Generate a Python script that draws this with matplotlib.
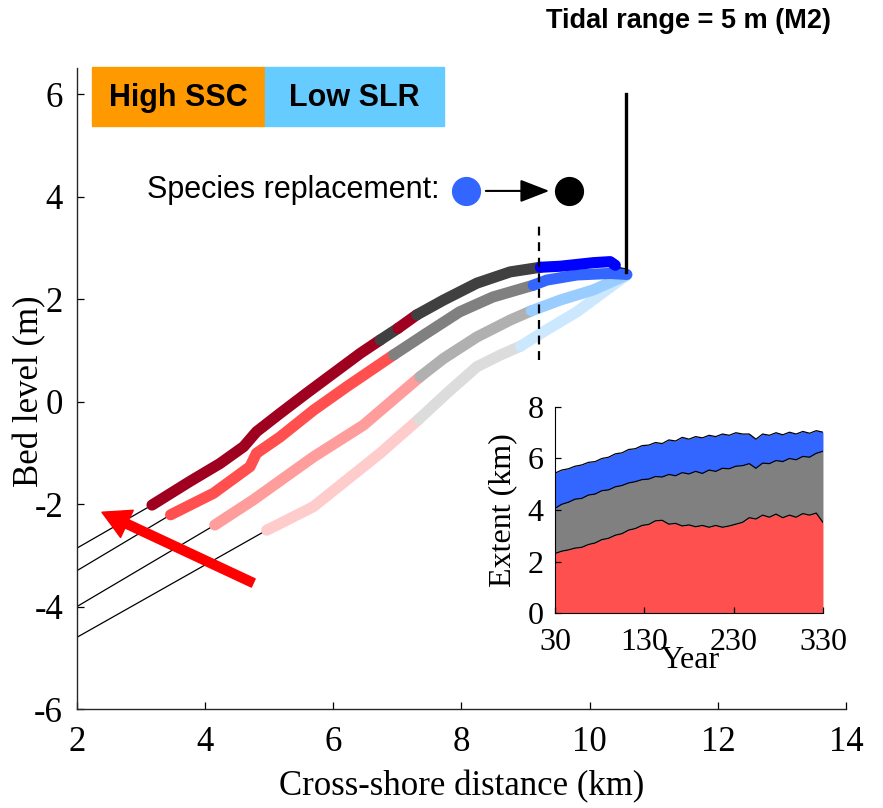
import matplotlib
matplotlib.use("Agg")
import matplotlib.pyplot as plt
from matplotlib.patches import Rectangle
import numpy as np

plt.rcParams['axes.unicode_minus'] = False

# ---- bed profiles (cross-shore km, bed level m) ----
# thin seaward extension of each profile: start at x=2 and join the vegetated part
ext_x = [2.0, 2.0, 2.0, 2.0]
ext_y = [-2.86, -3.30, -4.00, -4.60]

p1_x = [3.17, 3.76, 4.23, 4.60, 4.80, 5.17, 5.58, 6.00, 6.42, 6.73,
        7.01, 7.30, 7.72, 8.24, 8.76, 9.23, 9.54, 10.06, 10.32, 10.40]
p1_y = [-2.02, -1.56, -1.21, -0.88, -0.59, -0.23, 0.16, 0.55, 0.94, 1.20,
        1.43, 1.69, 1.98, 2.31, 2.53, 2.62, 2.64, 2.71, 2.73, 2.66]
p1_breaks = [0, 9, 10, 11, 15, 19]

p2_x = [3.46, 4.13, 4.70, 4.80, 5.17, 5.69, 6.21, 6.94, 7.45, 7.97, 8.49, 9.12,
        9.33, 9.80, 10.32, 10.58]
p2_y = [-2.21, -1.79, -1.27, -1.01, -0.69, -0.17, 0.29, 0.91, 1.33, 1.75, 2.04, 2.27,
        2.37, 2.47, 2.50, 2.48]
p2_breaks = [0, 7, 11, 15]

p3_x = [4.15, 4.75, 5.22, 5.69, 6.47, 7.35, 7.72, 8.24, 8.76, 9.09, 9.54, 10.06, 10.58]
p3_y = [-2.41, -1.92, -1.50, -1.08, -0.46, 0.48, 0.84, 1.26, 1.59, 1.77, 1.98, 2.18, 2.47]
p3_breaks = [0, 5, 9, 12]

p4_x = [4.96, 5.17, 5.69, 6.21, 6.73, 7.33, 7.77, 8.24, 8.61, 8.92, 9.33, 9.80, 10.58]
p4_y = [-2.51, -2.38, -2.05, -1.53, -1.01, -0.35, 0.16, 0.68, 0.91, 1.08, 1.40, 1.75, 2.47]
p4_breaks = [0, 5, 9, 12]

wall_x = 10.57
wall_y = [2.53, 6.0]
replace_x = 9.21
replace_y = [0.81, 3.54]

# ---- inset: vegetation extent (km) per year ----
years = [30, 37.5, 45, 52.5, 60, 67.5, 75, 82.5, 90, 97.5, 105, 112.5, 120, 127.5,
         135, 142.5, 150, 157.5, 165, 172.5, 180, 187.5, 195, 202.5, 210, 217.5,
         225, 232.5, 240, 247.5, 255, 262.5, 270, 277.5, 285, 292.5, 300, 307.5,
         315, 322.5, 330]
ext_red = [2.31, 2.40, 2.45, 2.52, 2.55, 2.66, 2.72, 2.85, 2.90, 3.02, 3.08, 3.22,
           3.28, 3.40, 3.44, 3.58, 3.60, 3.45, 3.48, 3.38, 3.42, 3.35, 3.40, 3.33,
           3.40, 3.33, 3.38, 3.45, 3.52, 3.70, 3.65, 3.80, 3.72, 3.84, 3.70, 3.80,
           3.72, 3.86, 3.80, 3.88, 3.52]
ext_gray = [4.06, 4.22, 4.30, 4.42, 4.45, 4.58, 4.62, 4.75, 4.78, 4.90, 4.95, 5.05,
            5.10, 5.18, 5.20, 5.30, 5.28, 5.38, 5.33, 5.45, 5.40, 5.50, 5.42, 5.55,
            5.50, 5.62, 5.60, 5.70, 5.72, 5.80, 5.62, 5.82, 5.80, 5.92, 5.88, 6.00,
            5.95, 6.08, 6.05, 6.20, 6.28]
ext_blue = [5.43, 5.55, 5.60, 5.70, 5.75, 5.85, 5.88, 6.00, 6.05, 6.18, 6.22, 6.35,
            6.38, 6.50, 6.52, 6.62, 6.58, 6.72, 6.68, 6.82, 6.75, 6.85, 6.80, 6.90,
            6.85, 6.95, 6.90, 7.00, 6.95, 6.95, 6.75, 6.95, 6.90, 7.00, 6.92, 7.02,
            6.95, 7.05, 6.98, 7.08, 7.02]

# ---- styling ----
serif = ['Liberation Serif', 'DejaVu Serif']
sans = ['Liberation Sans', 'DejaVu Sans']
p1_cols = ['#a00020', '#404040', '#a00020', '#404040', '#0000ff']
p2_cols = ['#ff4f4f', '#808080', '#3366ff']
p3_cols = ['#ff9c9c', '#b0b0b0', '#99ccff']
p4_cols = ['#ffcccc', '#dcdcdc', '#cce8ff']

fig = plt.figure(figsize=(8.83, 8.08), dpi=100)
ax = fig.add_axes([0.0872, 0.1225, 0.8709, 0.7928])

profiles = [(p4_x, p4_y, p4_breaks, p4_cols, 3),
            (p3_x, p3_y, p3_breaks, p3_cols, 2),
            (p2_x, p2_y, p2_breaks, p2_cols, 1),
            (p1_x, p1_y, p1_breaks, p1_cols, 0)]

# thin black lines under the thick ones
for px, py, br, cols, k in profiles:
    ax.plot([ext_x[k]] + px, [ext_y[k]] + py, color='black', lw=0.9, zorder=2)
ax.plot([p1_x[-1], wall_x], [2.62, 2.58], color='black', lw=1.5, zorder=2)

for px, py, br, cols, k in profiles:
    for i in range(len(br) - 1):
        ax.plot(px[br[i]:br[i + 1] + 1], py[br[i]:br[i + 1] + 1], color=cols[i],
                lw=8, solid_capstyle='round', solid_joinstyle='round', zorder=3)

ax.plot([wall_x, wall_x], wall_y, color='black', lw=2.4, zorder=4)
ax.plot([replace_x, replace_x], replace_y, color='black', lw=1.6,
        ls=(0, (4, 3)), zorder=5)

# species replacement legend
ax.text(7.66, 4.12, 'Species replacement:', family=sans, fontsize=22,
        ha='right', va='center')
ax.plot([8.07], [4.11], 'o', color='#3366ff', ms=20, zorder=6)
ax.plot([9.68], [4.11], 'o', color='black', ms=20, zorder=6)
ax.annotate('', xy=(9.37, 4.11), xytext=(8.38, 4.11),
            arrowprops=dict(arrowstyle='-|>,head_length=0.9,head_width=0.35',
                            color='black', lw=1.5, shrinkA=0, shrinkB=0,
                            mutation_scale=20))

# red arrow
ax.annotate('', xy=(2.39, -2.16), xytext=(4.75, -3.54),
            arrowprops=dict(arrowstyle='simple,head_length=1.1,head_width=1.2,tail_width=0.36',
                            color='#ff0000', shrinkA=0, shrinkB=0, mutation_scale=18),
            zorder=7)

# scenario boxes
ax.add_patch(Rectangle((2.23, 5.37), 2.71, 1.16, color='#ff9900', clip_on=False, zorder=6))
ax.add_patch(Rectangle((4.94, 5.37), 2.79, 1.16, color='#66ccff', clip_on=False, zorder=6))
ax.text(3.58, 5.93, 'High SSC', family=sans, weight='bold', fontsize=22,
        ha='center', va='center', zorder=7)
ax.text(6.33, 5.93, 'Low SLR', family=sans, weight='bold', fontsize=22,
        ha='center', va='center', zorder=7)

fig.text(688 / 883, 1 - 21 / 808, 'Tidal range = 5 m (M2)', family=sans,
         weight='bold', fontsize=19.5, ha='center', va='center')

ax.set_xlim(2, 14)
ax.set_ylim(-6, 6.5)
ax.set_xticks([2, 4, 6, 8, 10, 12, 14])
ax.set_yticks([-6, -4, -2, 0, 2, 4, 6])
for s in ['top', 'right']:
    ax.spines[s].set_visible(False)
for s in ['left', 'bottom']:
    ax.spines[s].set_linewidth(1.0)
    ax.spines[s].set_color('#262626')
ax.tick_params(direction='in', length=5, width=0.9, labelsize=25)
ax.tick_params(axis='y', pad=10)
ax.tick_params(axis='x', pad=12)
for lab in ax.get_xticklabels() + ax.get_yticklabels():
    lab.set_family(serif)
ax.set_xlabel('Cross-shore distance (km)', family=serif, fontsize=25)
ax.set_ylabel('Bed level (m)', family=serif, fontsize=25)
ax.xaxis.set_label_coords(0.5, -0.122)
ax.xaxis.label.set_va('center')
ax.yaxis.set_label_coords(-0.061, 0.496)
ax.yaxis.label.set_va('center')

# ---- inset ----
axi = fig.add_axes([0.6285, 0.2413, 0.3035, 0.2550])
zeros = np.zeros(len(years))
axi.fill_between(years, zeros, ext_red, color='#ff5050', lw=0)
axi.fill_between(years, ext_red, ext_gray, color='#808080', lw=0)
axi.fill_between(years, ext_gray, ext_blue, color='#3366ff', lw=0)
for top in [ext_red, ext_gray, ext_blue]:
    axi.plot(years, top, color='black', lw=0.9)
axi.plot([years[-1], years[-1]], [0, ext_blue[-1]], color='black', lw=0.6)
axi.set_xlim(30, 330)
axi.set_ylim(0, 8)
axi.set_xticks([30, 130, 230, 330])
axi.set_yticks([0, 2, 4, 6, 8])
for s in ['top', 'right']:
    axi.spines[s].set_visible(False)
axi.tick_params(direction='in', length=4, width=0.9, labelsize=23)
axi.tick_params(axis='x', pad=11)
axi.tick_params(axis='y', pad=8)
for lab in axi.get_xticklabels() + axi.get_yticklabels():
    lab.set_family(serif)
axi.set_xlabel('Year', family=serif, fontsize=23)
axi.set_ylabel('Extent (km)', family=serif, fontsize=23)
axi.xaxis.set_label_coords(0.504, -0.228)
axi.xaxis.label.set_va('center')
axi.yaxis.set_label_coords(-0.194, 0.5)
axi.yaxis.label.set_va('center')

fig.savefig('out.png', dpi=100)
